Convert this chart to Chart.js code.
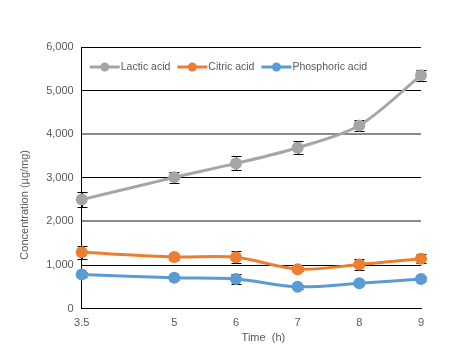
<!DOCTYPE html>
<html>
<head>
<meta charset="utf-8">
<script src="https://cdn.jsdelivr.net/npm/chart.js@4.4.1/dist/chart.umd.min.js"></script>
<style>
  html, body { margin: 0; padding: 0; background: #fff; }
  #wrap { width: 460px; height: 360px; }
</style>
</head>
<body>
<div id="wrap"><canvas id="grafico"></canvas></div>
<script>
// dados
const horas = [3.5, 5, 6, 7, 8, 9];
const lactico = [2500, 3010, 3330, 3690, 4200, 5350];
const lacticoErro = [170, 125, 160, 150, 120, 120];
const citrico = [1290, 1185, 1180, 905, 1010, 1145];
const citricoErro = [145, 60, 145, 50, 125, 110];
const fosforico = [780, 705, 680, 500, 580, 680];
const fosforicoErro = [50, 50, 120, 50, 50, 50];
const yTicks = [0, 1000, 2000, 3000, 4000, 5000, 6000];
const tituloX = "Time  (h)";
const tituloY = "Concentration (µg/mg)";

const cinza = "#A5A5A5";
const laranja = "#ED7D31";
const azul = "#5B9BD5";
const texto = "#595959";
const fonte = "'Liberation Sans', Arial, sans-serif";

function pontos(valores) {
  return horas.map((h, i) => ({ x: h, y: valores[i] }));
}

// barras de erro desenhadas antes dos pontos
const barrasErro = {
  id: "barrasErro",
  beforeDatasetsDraw(chart) {
    const ctx = chart.ctx;
    const sx = chart.scales.x, sy = chart.scales.y;
    const erros = [lacticoErro, citricoErro, fosforicoErro];
    const valores = [lactico, citrico, fosforico];
    ctx.save();
    ctx.strokeStyle = "#000";
    ctx.lineWidth = 1;
    for (let d = 0; d < erros.length; d++) {
      for (let i = 0; i < horas.length; i++) {
        const px = Math.round(sx.getPixelForValue(horas[i])) + 0.5;
        const top = Math.round(sy.getPixelForValue(valores[d][i] + erros[d][i])) + 0.5;
        const bot = Math.round(sy.getPixelForValue(valores[d][i] - erros[d][i])) + 0.5;
        ctx.beginPath();
        ctx.moveTo(px, top); ctx.lineTo(px, bot);
        ctx.moveTo(px - 5, top); ctx.lineTo(px + 5, top);
        ctx.moveTo(px - 5, bot); ctx.lineTo(px + 5, bot);
        ctx.stroke();
      }
    }
    ctx.restore();
  }
};

// legenda dentro da área do gráfico + títulos dos eixos
const legendaInterna = {
  id: "legendaInterna",
  afterDraw(chart) {
    const ctx = chart.ctx;
    const area = chart.chartArea;
    let x = area.left + 8;
    const y = area.top + 20;
    ctx.save();
    ctx.font = "10.5px " + fonte;
    ctx.textBaseline = "middle";
    chart.data.datasets.forEach(d => {
      ctx.strokeStyle = d.borderColor;
      ctx.lineWidth = 3;
      ctx.beginPath(); ctx.moveTo(x, y); ctx.lineTo(x + 30, y); ctx.stroke();
      ctx.fillStyle = d.borderColor;
      ctx.beginPath(); ctx.arc(x + 15, y, 4.5, 0, Math.PI * 2); ctx.fill();
      ctx.fillStyle = texto;
      ctx.fillText(d.label, x + 31, y);
      x += 31 + ctx.measureText(d.label).width + 7;
    });

    // títulos (o Excel não centraliza eles na área)
    ctx.font = "11px " + fonte;
    ctx.textAlign = "center";
    ctx.fillText(tituloX, (area.left + area.right) / 2 + 12, area.bottom + 29);
    ctx.translate(25, (area.top + area.bottom) / 2 + 27);
    ctx.rotate(-Math.PI / 2);
    ctx.fillText(tituloY, 0, 0);
    ctx.restore();
  }
};

function serie(label, valores, cor) {
  return {
    label: label,
    data: pontos(valores),
    borderColor: cor,
    backgroundColor: cor,
    borderWidth: 3,
    pointRadius: 6,
    pointHoverRadius: 6,
    pointBorderWidth: 0,
    tension: 0.3,
    clip: false
  };
}

const ctx = document.getElementById("grafico").getContext("2d");

new Chart(ctx, {
  type: "line",
  data: {
    datasets: [
      serie("Lactic acid", lactico, cinza),
      serie("Citric acid", citrico, laranja),
      serie("Phosphoric acid", fosforico, azul)
    ]
  },
  plugins: [barrasErro, legendaInterna],
  options: {
    responsive: true,
    maintainAspectRatio: false,
    animation: false,
    layout: { padding: { left: 15, right: 39, top: 47, bottom: 13 } },
    plugins: {
      tooltip: { enabled: false },
      legend: { display: false }
    },
    scales: {
      x: {
        type: "linear",
        min: 3.5,
        max: 9,
        afterBuildTicks(axis) { axis.ticks = horas.map(v => ({ value: v })); },
        grid: { display: false, drawTicks: false },
        border: { color: "#000", width: 1 },
        ticks: {
          color: texto,
          padding: 8,
          maxRotation: 0,
          font: { family: fonte, size: 11 },
          callback: v => String(v)
        },
        title: {
          // espaço reservado; o texto é desenhado no plugin
          display: true,
          text: tituloX,
          color: "transparent",
          padding: { top: -4, bottom: 0 },
          font: { family: fonte, size: 11 }
        }
      },
      y: {
        min: 0,
        max: 6000,
        afterBuildTicks(axis) { axis.ticks = yTicks.map(v => ({ value: v })); },
        grid: {
          drawTicks: false,
          color: c => (c.tick && (c.tick.value === 2000 || c.tick.value === 4000)) ? "#8a8a8a" : "#000",
          lineWidth: c => (c.tick && (c.tick.value === 2000 || c.tick.value === 4000)) ? 2 : 1
        },
        border: { color: "#000", width: 1 },
        ticks: {
          color: texto,
          padding: 8,
          font: { family: fonte, size: 11 },
          callback: v => v.toLocaleString("en-US")
        },
        title: {
          display: true,
          text: tituloY,
          color: "transparent",
          padding: { bottom: 6 },
          font: { family: fonte, size: 11 }
        }
      }
    }
  }
});
</script>
</body>
</html>
